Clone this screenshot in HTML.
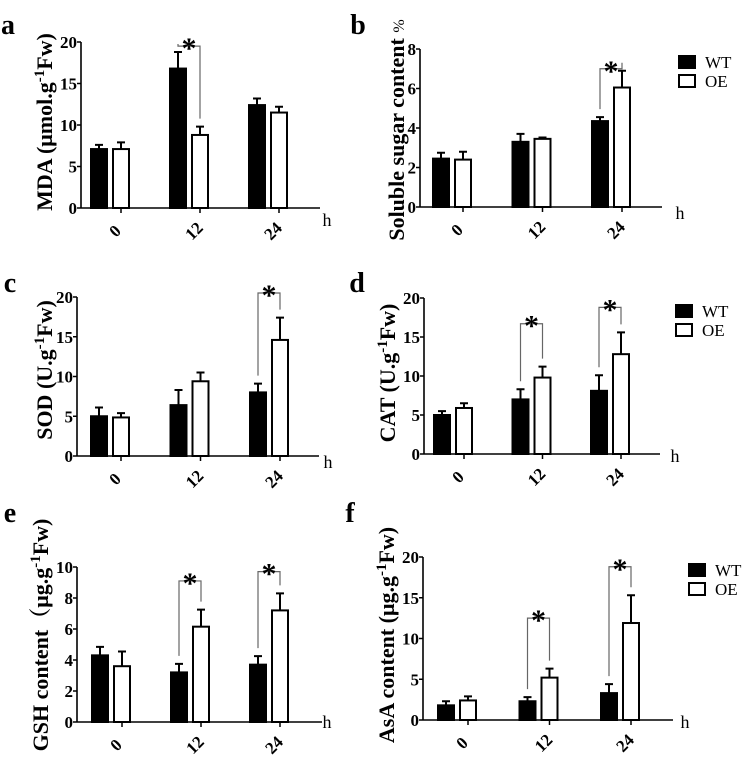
<!DOCTYPE html>
<html><head><meta charset="utf-8">
<style>
html,body{margin:0;padding:0;background:#fff;}
svg{display:block;}
text{font-family:"Liberation Serif","Noto Serif CJK SC",serif;}
</style></head>
<body>
<svg id="fig" width="749" height="760" viewBox="0 0 749 760" xmlns="http://www.w3.org/2000/svg"></svg>
<script>
const categories = ["0","12","24"];
const mdaWT = [7.1,16.8,12.4], mdaWTerr = [0.5,2.0,0.8], mdaOE = [7.1,8.8,11.5], mdaOEerr = [0.8,1.0,0.7];
const sugWT = [2.45,3.3,4.35], sugWTerr = [0.3,0.4,0.2], sugOE = [2.4,3.45,6.05], sugOEerr = [0.4,0.07,0.85];
const sodWT = [5.0,6.4,8.0], sodWTerr = [1.1,1.9,1.1], sodOE = [4.85,9.4,14.6], sodOEerr = [0.55,1.1,2.8];
const catWT = [5.0,7.0,8.1], catWTerr = [0.5,1.3,2.0], catOE = [5.9,9.8,12.8], catOEerr = [0.6,1.4,2.8];
const gshWT = [4.3,3.2,3.7], gshWTerr = [0.55,0.55,0.55], gshOE = [3.6,6.15,7.2], gshOEerr = [0.95,1.1,1.1];
const asaWT = [1.8,2.3,3.3], asaWTerr = [0.5,0.5,1.1], asaOE = [2.4,5.2,11.9], asaOEerr = [0.5,1.1,3.4];
const ticks20 = [0,5,10,15,20], ticks8 = [0,2,4,6,8], ticks10 = [0,2,4,6,8,10];
const sigA = [1], sigB = [2], sigC = [2], sigD = [1,2], sigE = [1,2], sigF = [1,2];
const brA = [0,19.5,0], brB = [0,0,7.0], brC = [0,0,20.5], brD = [0,16.7,18.8], brE = [0,9.1,9.7], brF = [0,12.5,18.8];

const NS="http://www.w3.org/2000/svg";
const svg=document.getElementById('fig');
function mk(tag,attrs,parent){const e=document.createElementNS(NS,tag);for(const k in attrs)e.setAttribute(k,attrs[k]);(parent||svg).appendChild(e);return e;}

const SUP='<tspan baseline-shift="super" font-size="15">-1</tspan>';
const panels=[
 {id:'a',wt:mdaWT,wte:mdaWTerr,oe:mdaOE,oee:mdaOEerr,ticks:ticks20,ymax:20,sig:sigA,br:brA,ax:81,x1:91,step:79,end:320,top:42,bot:208,
  letter:[8,25],h:[327,220],title:'MDA (μmol.g'+SUP+'Fw)',tx:52,ty:122,legend:null},
 {id:'b',wt:sugWT,wte:sugWTerr,oe:sugOE,oee:sugOEerr,ticks:ticks8,ymax:8,sig:sigB,br:brB,ax:420,x1:433,step:79.5,end:662,top:49,bot:207,
  letter:[358,25],h:[680,213],title:'Soluble sugar content <tspan font-weight="normal" font-size="16">%</tspan>',tx:404,ty:130,legend:[678,55]},
 {id:'c',wt:sodWT,wte:sodWTerr,oe:sodOE,oee:sodOEerr,ticks:ticks20,ymax:20,sig:sigC,br:brC,ax:77,x1:91,step:79.5,end:319,top:297,bot:456,
  letter:[10,283],h:[328,462],title:'SOD (U.g'+SUP+'Fw)',tx:52,ty:370,legend:null},
 {id:'d',wt:catWT,wte:catWTerr,oe:catOE,oee:catOEerr,ticks:ticks20,ymax:20,sig:sigD,br:brD,ax:424,x1:434,step:78.5,end:660,top:298,bot:454,
  letter:[357,283],h:[675,456],title:'CAT (U.g'+SUP+'Fw)',tx:395,ty:373,legend:[675,304]},
 {id:'e',wt:gshWT,wte:gshWTerr,oe:gshOE,oee:gshOEerr,ticks:ticks10,ymax:10,sig:sigE,br:brE,ax:77,x1:92,step:79,end:322,top:567,bot:722,
  letter:[10,513],h:[327,722],title:'GSH content（μg.g'+SUP+'Fw)',tx:48,ty:635,legend:null},
 {id:'f',wt:asaWT,wte:asaWTerr,oe:asaOE,oee:asaOEerr,ticks:ticks20,ymax:20,sig:sigF,br:brF,ax:423,x1:438,step:81.5,end:673,top:557,bot:720,
  letter:[350,513],h:[685,722],title:'AsA content (μg.g'+SUP+'Fw)',tx:394,ty:635,legend:[688,563]}
];

panels.forEach(p=>{
  const g=mk('g',{});
  
  
  const y=v=>p.bot-(v/p.ymax)*(p.bot-p.top);
  const bw=16, off=22;
  const L=mk('text',{x:p.letter[0],y:p.letter[1]+9,'font-size':28,'font-weight':'bold','text-anchor':'middle'},g);
  L.textContent=p.id;
  
  
  const T=mk('text',{x:0,y:0,'font-size':22,'font-weight':'bold','text-anchor':'middle',transform:`translate(${p.tx},${p.ty}) rotate(-90)`},g);
  T.innerHTML=p.title;
  
  
  categories.forEach((c,i)=>{
    const gx=p.x1+i*p.step;
    [[p.wt,p.wte,'#000',gx,'wt'],[p.oe,p.oee,'#fff',gx+off,'oe']].forEach(([vals,errs,fill,bx,s])=>{
      const v=vals[i], e=errs[i];
      const ex=bx+bw/2;
      const eb=mk('path',{d:`M${ex},${y(v)} V${y(v+e)} M${ex-4},${y(v+e)} H${ex+4}`,stroke:'#000','stroke-width':2,fill:'none'},g);
      
      
      const r=mk('rect',{x:bx,y:y(v),width:bw,height:p.bot-y(v),fill:fill,stroke:'#000','stroke-width':2},g);
      
      
    });
    const tx=gx+30;
    mk('line',{x1:tx,y1:p.bot,x2:tx,y2:p.bot+5,stroke:'#000','stroke-width':1.5},g);
    const t=mk('text',{x:0,y:0,'font-size':17,'font-weight':'bold','text-anchor':'middle',transform:`translate(${tx-2},${p.bot+27}) rotate(-45)`},g);
    t.textContent=c;
    
    
  });
  p.sig.forEach(i=>{
    const gx=p.x1+i*p.step;
    const xl=gx+bw/2, xr=gx+off+bw/2;
    const yt=y(p.br[i]);
    const yl=y(p.wt[i]+p.wte[i])-8, yr=y(p.oe[i]+p.oee[i])-8;
    const b=mk('path',{d:`M${xl},${yl} V${yt} H${xr} V${yr}`,stroke:'#666','stroke-width':1.2,fill:'none'},g);
    
    
    const s=mk('text',{x:(xl+xr)/2,y:yt+12,'font-size':30,'font-weight':'bold','text-anchor':'middle'},g);
    s.textContent='*';
    
    
  });
  const ya=mk('line',{x1:p.ax,y1:p.top,x2:p.ax,y2:p.bot,stroke:'#000','stroke-width':1.6},g);
  
  
  const xa=mk('line',{x1:p.ax,y1:p.bot,x2:p.end,y2:p.bot,stroke:'#000','stroke-width':1.6},g);
  
  
  p.ticks.forEach(v=>{
    mk('line',{x1:p.ax-4,y1:y(v),x2:p.ax,y2:y(v),stroke:'#000','stroke-width':1.5},g);
    const t=mk('text',{x:p.ax-4,y:y(v)+6,'font-size':17,'font-weight':'bold','text-anchor':'end'},g);
    t.textContent=v;
    
    
  });
  const h=mk('text',{x:p.h[0],y:p.h[1]+6,'font-size':18,'text-anchor':'middle'},g);
  h.textContent='h';
  
  
  if(p.legend){
    const [lx,ly]=p.legend;
    [['WT','#000',0],['OE','#fff',19]].forEach(([n,f,dy])=>{
      const sq=mk('rect',{x:lx+1,y:ly+dy+1,width:16,height:12,fill:f,stroke:'#000','stroke-width':2},g);
      
      
      const lt=mk('text',{x:lx+27,y:ly+dy+13,'font-size':17},g);
      lt.textContent=n;
      
      
    });
  }
});
</script>
</body></html>
